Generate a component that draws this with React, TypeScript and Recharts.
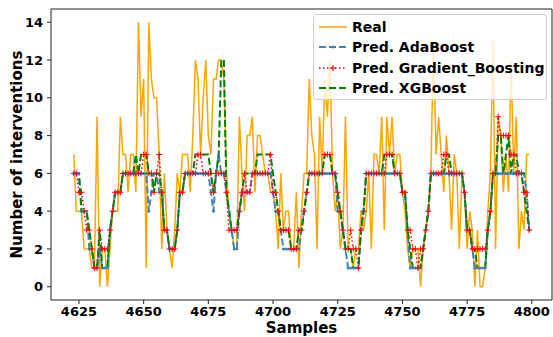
import React from "react";
import {
  LineChart,
  Line,
  XAxis,
  YAxis,
  ReferenceArea,
} from "recharts";

// sample index of the first point (one point per sample up to 4799)
const FIRST_SAMPLE = 4623;

const REAL = [
  7, 4, 4, 4, 2, 2, 2, 1, 1, 9,
  0, 2, 2, 0, 2, 4, 4, 4, 9, 7,
  7, 5, 7, 7, 5, 14, 9, 11, 1, 14,
  11, 10, 10, 7, 2, 6, 3, 2, 1, 3,
  6, 5, 7, 7, 7, 5, 8, 12, 11, 7,
  10, 12, 8, 7, 11, 11, 12, 12, 11, 6,
  4, 3, 2, 2, 9, 6, 4, 8, 8, 9,
  5, 8, 8, 7, 6, 6, 5, 5, 4, 2,
  6, 3, 4, 4, 2, 2, 5, 1, 4, 6,
  6, 11, 8, 7, 2, 9, 6, 11, 9, 12,
  6, 4, 5, 2, 3, 9, 2, 2, 1, 2,
  2, 4, 3, 4, 6, 2, 7, 7, 6, 9,
  3, 9, 7, 9, 6, 7, 7, 5, 4, 2,
  1, 2, 2, 2, 0, 2, 3, 4, 6, 13,
  7, 9, 7, 5, 8, 6, 3, 7, 6, 2,
  6, 5, 2, 4, 3, 0, 3, 0, 0, 1,
  4, 6, 13, 2, 9, 8, 5, 7, 5, 12,
  6, 9, 2, 4, 3, 7, 7,
];

const ADABOOST = [
  6, 6, 6, 4, 4, 4, 2, 2, 1, 1,
  2, 1, 1, 1, 3, 4, 5, 5, 5, 6,
  6, 6, 6, 6, 6, 6, 6, 6, 6, 4,
  5, 6, 6, 5, 5, 3, 3, 2, 2, 2,
  3, 5, 5, 6, 6, 6, 6, 6, 6, 6,
  6, 6, 6, 5, 4, 6, 7, 6, 6, 5,
  4, 3, 2, 2, 4, 5, 5, 5, 5, 6,
  6, 6, 6, 6, 6, 6, 6, 5, 4, 4,
  3, 2, 2, 2, 2, 2, 2, 2, 3, 4,
  5, 6, 6, 6, 6, 6, 6, 6, 6, 6,
  6, 6, 4, 4, 3, 2, 1, 1, 1, 1,
  1, 3, 4, 6, 6, 6, 6, 6, 6, 6,
  6, 6, 6, 6, 6, 6, 6, 5, 5, 3,
  1, 1, 1, 1, 1, 2, 3, 4, 6, 6,
  6, 6, 6, 6, 6, 6, 6, 6, 6, 6,
  6, 5, 3, 3, 2, 1, 1, 1, 1, 1,
  3, 4, 6, 6, 6, 6, 6, 6, 6, 6,
  6, 6, 6, 6, 6, 5, 3,
];

const GRADIENT_BOOSTING = [
  6, 6, 5, 5, 4, 3, 3, 2, 1, 1,
  3, 2, 2, 2, 3, 4, 5, 5, 5, 6,
  6, 6, 6, 6, 6, 6, 6, 7, 7, 6,
  6, 5, 6, 7, 5, 3, 3, 2, 2, 2,
  3, 5, 5, 6, 6, 6, 6, 6, 7, 7,
  6, 6, 6, 6, 5, 6, 6, 6, 6, 5,
  3, 3, 3, 3, 4, 5, 6, 5, 5, 6,
  6, 6, 6, 6, 6, 6, 7, 5, 5, 4,
  3, 3, 3, 3, 2, 2, 2, 3, 3, 4,
  5, 6, 6, 6, 6, 6, 6, 7, 7, 7,
  6, 6, 5, 4, 3, 2, 2, 3, 2, 2,
  1, 3, 4, 6, 6, 6, 6, 6, 6, 6,
  6, 7, 7, 7, 6, 6, 6, 5, 5, 3,
  3, 2, 2, 1, 2, 2, 3, 4, 6, 6,
  6, 6, 6, 7, 7, 6, 6, 6, 6, 6,
  6, 5, 3, 3, 2, 2, 2, 2, 2, 2,
  3, 4, 6, 6, 9, 8, 8, 8, 8, 7,
  7, 6, 6, 6, 5, 5, 3,
];

const XGBOOST = [
  6, 6, 6, 4, 4, 4, 3, 2, 1, 1,
  3, 1, 1, 1, 3, 4, 5, 5, 5, 6,
  6, 6, 6, 6, 7, 6, 7, 7, 7, 6,
  6, 5, 6, 6, 5, 3, 3, 2, 2, 2,
  3, 5, 5, 6, 6, 6, 6, 7, 7, 7,
  7, 7, 7, 6, 5, 6, 7, 12, 12, 5,
  4, 3, 3, 3, 4, 5, 6, 6, 6, 6,
  6, 7, 7, 7, 7, 7, 7, 6, 5, 4,
  3, 3, 3, 3, 2, 2, 2, 3, 3, 4,
  5, 6, 6, 6, 6, 6, 6, 7, 7, 7,
  6, 6, 5, 4, 3, 2, 2, 2, 1, 1,
  1, 3, 4, 6, 6, 6, 6, 6, 6, 6,
  7, 7, 7, 7, 6, 6, 6, 5, 5, 3,
  2, 1, 1, 1, 1, 2, 3, 4, 6, 6,
  6, 6, 6, 6, 7, 7, 6, 6, 6, 6,
  6, 5, 3, 3, 2, 2, 1, 1, 1, 1,
  3, 4, 6, 6, 8, 8, 6, 7, 8, 6,
  7, 7, 6, 6, 5, 4, 3,
];

const X_TICKS = [4625, 4650, 4675, 4700, 4725, 4750, 4775, 4800];
const Y_TICKS = [0, 2, 4, 6, 8, 10, 12, 14];
const X_DOMAIN: [number, number] = [4614.2, 4807.8];
const Y_DOMAIN: [number, number] = [-0.7, 14.7];

const LEGEND = [
  { name: "Real", color: "orange", dash: undefined, width: 1.5, marker: "none" },
  { name: "Pred. AdaBoost", color: "steelblue", dash: "7 3", width: 2, marker: "dot" },
  { name: "Pred. Gradient_Boosting", color: "red", dash: "1.5 2.5", width: 1.5, marker: "plus" },
  { name: "Pred. XGBoost", color: "green", dash: "7 3", width: 2, marker: "none" },
];

const data = REAL.map((v, i) => ({
  sample: FIRST_SAMPLE + i,
  real: v,
  ada: ADABOOST[i],
  gb: GRADIENT_BOOSTING[i],
  xgb: XGBOOST[i],
}));

const FONT = "DejaVu Sans";

const PlusDot = (props: any) => {
  const { cx, cy, index } = props;
  if (cx == null || cy == null) return <g key={index} />;
  return (
    <path
      key={index}
      d={`M${cx - 3},${cy}h6M${cx},${cy - 3}v6`}
      stroke="red"
      strokeWidth={1}
      fill="none"
    />
  );
};

const SmallDot = (props: any) => {
  const { cx, cy, index } = props;
  if (cx == null || cy == null) return <g key={index} />;
  return <circle key={index} cx={cx} cy={cy} r={1.5} fill="steelblue" />;
};

function Legendbox() {
  return (
    <div
      style={{
        position: "absolute",
        left: 313,
        top: 14,
        width: 234,
        height: 86,
        background: "rgba(255,255,255,0.8)",
        border: "1px solid #d0d0d0",
        borderRadius: 3,
        boxSizing: "border-box",
      }}
    >
      {LEGEND.map((item, i) => (
        <div
          key={item.name}
          style={{
            position: "absolute",
            left: 4,
            top: 3 + i * 20.3,
            height: 18,
            display: "flex",
            alignItems: "center",
          }}
        >
          <svg width={30} height={18}>
            <line
              x1={1}
              x2={29}
              y1={9}
              y2={9}
              stroke={item.color}
              strokeWidth={item.width}
              strokeDasharray={item.dash}
            />
            {item.marker === "plus" && (
              <path d="M12,9h6M15,6v6" stroke="red" strokeWidth={1} />
            )}
            {item.marker === "dot" && <circle cx={15} cy={9} r={1.5} fill="steelblue" />}
          </svg>
          <span
            style={{
              marginLeft: 4,
              fontFamily: FONT,
              fontWeight: "bold",
              fontSize: 14,
              color: "#000",
              whiteSpace: "nowrap",
            }}
          >
            {item.name}
          </span>
        </div>
      ))}
    </div>
  );
}

export default function App() {
  const tick = { fill: "#000", fontSize: 13, fontWeight: "bold", fontFamily: FONT };
  return (
    <div style={{ position: "absolute", left: 0, top: 0, width: 553, height: 337, background: "#fff" }}>
      <LineChart
        width={553}
        height={337}
        data={data}
        margin={{ top: 9, right: 1, bottom: 0, left: 0 }}
      >
        <XAxis
          dataKey="sample"
          type="number"
          domain={X_DOMAIN}
          ticks={X_TICKS}
          allowDataOverflow
          height={37}
          tick={tick}
          tickSize={4}
          tickMargin={3}
          axisLine={false}
          tickLine={{ stroke: "#222" }}
          label={{
            content: (p: any) => {
              const vb = p.viewBox;
              return (
                <text
                  x={vb.x + vb.width / 2}
                  y={vb.y + 28}
                  textAnchor="middle"
                  dominantBaseline="central"
                  fontFamily={FONT}
                  fontWeight="bold"
                  fontSize={15}
                  fill="#000"
                >
                  Samples
                </text>
              );
            },
          }}
        />
        <YAxis
          type="number"
          domain={Y_DOMAIN}
          ticks={Y_TICKS}
          allowDataOverflow
          width={51}
          tick={tick}
          tickSize={4}
          tickMargin={4}
          axisLine={false}
          tickLine={{ stroke: "#222" }}
          label={{
            content: (p: any) => {
              const vb = p.viewBox;
              const cx = 17;
              const cy = vb.y + vb.height / 2;
              return (
                <text
                  x={cx}
                  y={cy}
                  transform={`rotate(-90, ${cx}, ${cy})`}
                  textAnchor="middle"
                  dominantBaseline="central"
                  fontFamily={FONT}
                  fontWeight="bold"
                  fontSize={15}
                  fill="#000"
                >
                  Number of interventions
                </text>
              );
            },
          }}
        />
        <Line
          dataKey="real"
          stroke="orange"
          strokeWidth={1.5}
          dot={false}
          isAnimationActive={false}
        />
        <Line
          dataKey="ada"
          stroke="steelblue"
          strokeWidth={2}
          strokeDasharray="7 3"
          dot={SmallDot}
          isAnimationActive={false}
        />
        <Line
          dataKey="gb"
          stroke="red"
          strokeWidth={1.5}
          strokeDasharray="1.5 2.5"
          dot={PlusDot}
          isAnimationActive={false}
        />
        <Line
          dataKey="xgb"
          stroke="green"
          strokeWidth={2}
          strokeDasharray="7 3"
          dot={false}
          isAnimationActive={false}
        />
        <ReferenceArea
          x1={X_DOMAIN[0]}
          x2={X_DOMAIN[1]}
          y1={Y_DOMAIN[0]}
          y2={Y_DOMAIN[1]}
          fill="none"
          stroke="#222"
          strokeWidth={1}
          ifOverflow="visible"
        />
      </LineChart>
      <Legendbox />
    </div>
  );
}
